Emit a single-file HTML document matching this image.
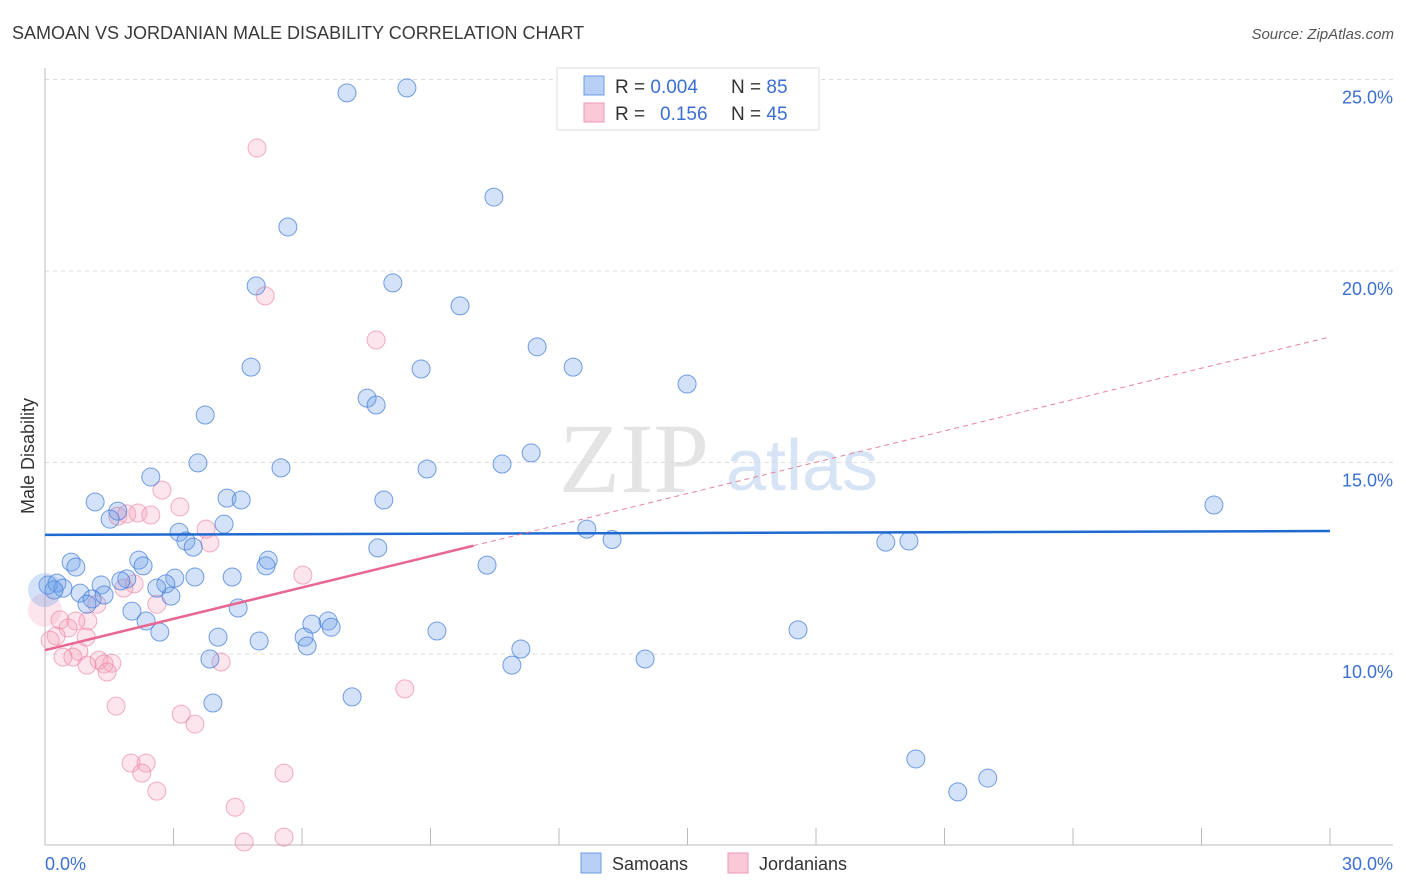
<!DOCTYPE html>
<html><head><meta charset="utf-8"><style>
body{margin:0;background:#fff;font-family:"Liberation Sans",sans-serif;}
svg{display:block}
</style></head><body>
<svg id="chart" width="1406" height="892" xmlns="http://www.w3.org/2000/svg">
<text x="12" y="39" font-size="18" fill="#3a3a3a">SAMOAN VS JORDANIAN MALE DISABILITY CORRELATION CHART</text>
<text x="1394" y="39" font-size="15" fill="#555" font-style="italic" text-anchor="end">Source: ZipAtlas.com</text>
<g>
<text x="634" y="492" font-size="100" font-family="Liberation Serif,serif" fill="#e4e4e4" text-anchor="middle">ZIP</text>
<text x="802" y="490" font-size="72" fill="#d6e4f5" text-anchor="middle">atlas</text>
</g>
<g id="grid"></g>
<g id="axes"></g>
<g id="marks"></g>
<g id="trends"></g>
<text transform="translate(34,456) rotate(-90)" font-size="18" fill="#333" text-anchor="middle">Male Disability</text>
<g>
<rect x="557" y="68" width="262" height="62" fill="#fff" stroke="#ddd"/>
<rect x="584" y="76" width="20" height="19" fill="#b8d0f5" stroke="#6a9be0"/>
<text x="615" y="93" font-size="19" fill="#333">R = <tspan fill="#3b6fd1">0.004</tspan></text>
<text x="731" y="93" font-size="19" fill="#333">N = <tspan fill="#3b6fd1">85</tspan></text>
<rect x="584" y="103" width="20" height="19" fill="#fbc8d8" stroke="#ee9ab5"/>
<text x="615" y="120" font-size="19" fill="#333">R = </text>
<text x="660" y="120" font-size="19" fill="#3b6fd1">0.156</text>
<text x="731" y="120" font-size="19" fill="#333">N = <tspan fill="#3b6fd1">45</tspan></text>
</g>
<g>
<rect x="581" y="853" width="20" height="20" fill="#b8d0f5" stroke="#6a9be0"/>
<text x="612" y="870" font-size="18" fill="#333">Samoans</text>
<rect x="728" y="853" width="20" height="20" fill="#fbc8d8" stroke="#ee9ab5"/>
<text x="759" y="870" font-size="18" fill="#333">Jordanians</text>
</g>
</svg>
<script>
const yTicks=[10,15,20,25];
const yTickLabels=["10.0%","15.0%","20.0%","25.0%"];
const xTickLabels=["0.0%","30.0%"];
const samoanX=[7.05,8.45,10.48,5.67,4.93,8.12,9.69,11.49,12.33,4.81,8.78,14.99,7.52,7.73,3.74,11.35,3.57,5.51,8.92,10.67,2.47,1.17,4.25,4.58,7.91,27.29,1.70,1.52,4.18,3.13,3.29,3.46,12.65,13.24,7.77,19.63,20.17,2.19,5.21,2.29,5.16,10.32,0.61,0.72,0.07,0.28,0.42,0.21,1.31,1.91,1.77,3.03,3.50,4.37,2.82,2.61,2.94,0.82,1.10,1.38,0.98,4.51,2.03,2.36,6.61,6.23,6.68,4.04,2.68,6.05,6.12,5.00,9.15,17.58,11.11,10.90,14.01,3.85,7.17,3.92,20.33,22.01,21.31,0];
const samoanY=[24.65,24.78,21.93,21.15,19.61,19.69,19.09,18.02,17.49,17.49,17.44,17.05,16.68,16.50,16.24,15.25,14.99,14.86,14.83,14.96,14.62,13.97,14.07,14.02,14.02,13.89,13.73,13.52,13.39,13.18,12.95,12.79,13.26,12.99,12.77,12.92,12.95,12.45,12.45,12.30,12.30,12.32,12.40,12.27,11.80,11.85,11.72,11.67,11.80,11.96,11.91,11.98,12.01,12.01,11.83,11.72,11.51,11.59,11.44,11.54,11.30,11.20,11.12,10.86,10.86,10.78,10.70,10.44,10.57,10.44,10.21,10.34,10.60,10.63,10.13,9.71,9.87,9.87,8.88,8.72,7.26,6.76,6.40,11.67];
const jordanX=[4.95,5.14,7.73,2.73,3.15,1.70,1.91,2.17,2.47,3.76,3.85,6.02,2.08,1.84,2.61,1.21,0.35,1.00,0.72,0.54,0.26,0.96,0.12,0.79,0.42,0.65,1.26,1.56,1.38,0.98,1.45,8.40,4.11,1.66,3.18,3.50,2.01,2.36,2.26,5.58,2.61,4.44,4.65,5.58,0];
const jordanY=[23.21,19.35,18.20,14.28,13.84,13.60,13.66,13.68,13.63,13.26,12.90,12.06,11.83,11.72,11.30,11.30,10.89,10.86,10.86,10.68,10.47,10.44,10.36,10.07,9.92,9.92,9.84,9.76,9.74,9.71,9.53,9.09,9.79,8.64,8.43,8.17,7.15,7.15,6.89,6.89,6.42,6.00,5.09,5.22,11.15];
const samoanTrend=[13.11,13.21];
const jordanTrend=[10.10,18.28];
const jordanSolidEnd=10;

const NS="http://www.w3.org/2000/svg";
const X0=45,X1=1330,Y25=79.5,PX_PER=38.3;
function sx(v){return X0+(X1-X0)*v/30;}
function sy(v){return Y25+(25-v)*PX_PER;}
function mk(tag,attrs,parent){const e=document.createElementNS(NS,tag);for(const k in attrs)e.setAttribute(k,attrs[k]);parent.appendChild(e);return e;}
const grid=document.getElementById('grid'),axes=document.getElementById('axes'),marks=document.getElementById('marks'),trends=document.getElementById('trends');
yTicks.forEach((t,i)=>{
 const l=mk('line',{x1:45,x2:1393,y1:sy(t),y2:sy(t),stroke:'#ddd','stroke-dasharray':'4,4'},grid);
 
 
 const tx=mk('text',{x:1393,y:sy(t)+24,'font-size':18,fill:'#3b6fd1','text-anchor':'end'},axes);
 tx.textContent=yTickLabels[i];
 
 
});
let a=mk('line',{x1:45,x2:45,y1:68,y2:845,stroke:'#bbb'},axes);


a=mk('line',{x1:45,x2:1393,y1:845,y2:845,stroke:'#bbb'},axes);


for(let i=1;i<=10;i++){const t=mk('line',{x1:sx(i*3),x2:sx(i*3),y1:828,y2:845,stroke:'#bbb'},axes);
 
 }
[[0,'start',45],[30,'end',1393]].forEach((d,i)=>{const t=mk('text',{x:d[2],y:870,'font-size':18,fill:'#3b6fd1','text-anchor':d[1]},axes);t.textContent=xTickLabels[i];
 
 });
function dots(xs,ys,fill,stroke,name){xs.forEach((x,i)=>{const big=(i===xs.length-1);
 const c=mk('circle',{cx:sx(x),cy:sy(ys[i]),r:big?17:9,fill:fill,stroke:big?'none':stroke,'stroke-width':1},marks);
 
 });}
dots(jordanX,jordanY,'rgba(246,160,188,0.28)','rgba(236,130,165,0.65)','jordanian-point');
dots(samoanX,samoanY,'rgba(110,160,232,0.3)','rgba(60,120,215,0.7)','samoan-point');
let t=mk('line',{x1:sx(0),y1:sy(samoanTrend[0]),x2:sx(30),y2:sy(samoanTrend[1]),stroke:'#1f6ad0','stroke-width':2.5},trends);


const jm=(jordanTrend[1]-jordanTrend[0])/30;
t=mk('line',{x1:sx(0),y1:sy(jordanTrend[0]),x2:sx(jordanSolidEnd),y2:sy(jordanTrend[0]+jm*jordanSolidEnd),stroke:'#e8668f','stroke-width':2.5},trends);


t=mk('line',{x1:sx(jordanSolidEnd),y1:sy(jordanTrend[0]+jm*jordanSolidEnd),x2:sx(30),y2:sy(jordanTrend[1]),stroke:'#e8819f','stroke-width':1,'stroke-dasharray':'5,4'},trends);


</script>
</body></html>
